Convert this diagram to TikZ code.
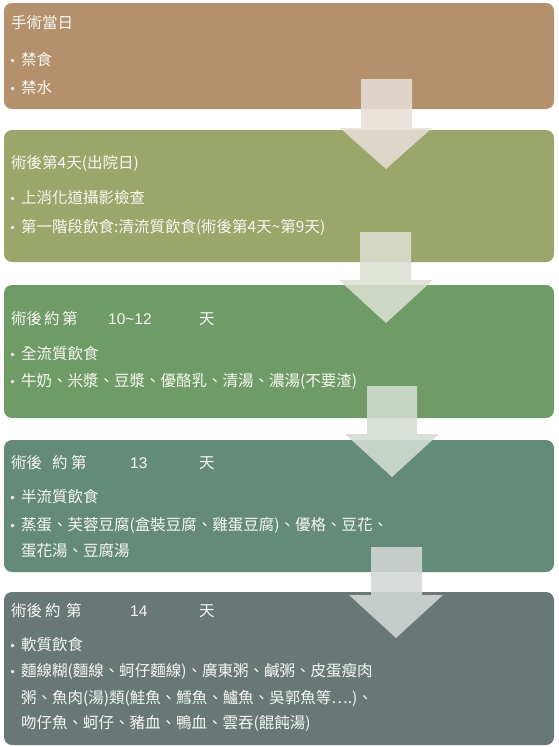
\documentclass[tikz,border=0pt]{standalone}
\usepackage{fontspec}
\setmainfont{Noto Sans CJK TC}
\newfontfamily\bulfont{DejaVu Sans}
\newfontfamily\numfont{Liberation Sans}
\definecolor{cA}{HTML}{B4916C}
\definecolor{cB}{HTML}{9BA66B}
\definecolor{cC}{HTML}{6F9B66}
\definecolor{cD}{HTML}{648B7A}
\definecolor{cE}{HTML}{677877}
\definecolor{aA}{HTML}{E6DED6}
\definecolor{aB}{HTML}{DCE0D2}
\definecolor{aC}{HTML}{D3DDD3}
\definecolor{aD}{HTML}{D3D8D6}
\definecolor{txt}{HTML}{F8F8F2}
\definecolor{bulc}{HTML}{E4E4E0}
\newcommand\placeat[2]{\rlap{\hspace*{#1}#2}}
\newcommand\bul{\makebox[12pt][l]{\textcolor{bulc}{\bulfont\fontsize{12}{12}\selectfont •}}}
\tikzset{
  stagebox/.style={rounded corners=8pt, draw=none},
  line/.style={anchor=base west, inner sep=0pt, text=txt, font=\fontsize{15.5}{18}\selectfont},
  blockarrow/.style={draw=none, fill opacity=0.88},
}
\begin{document}
\begin{tikzpicture}[x=1pt,y=-1pt]
\useasboundingbox (0,0) rectangle (558,747);
% boxes
\fill[stagebox, cA] (4,3) rectangle (554,109);
\fill[stagebox, cB] (4,130) rectangle (554,262);
\fill[stagebox, cC] (4,285) rectangle (554,418);
\fill[stagebox, cD] (4,440) rectangle (554,572);
\fill[stagebox, cE] (4,592) rectangle (554,745);
% arrows
\fill[blockarrow, aA] (361,79) -- (412,79) -- (412,128) -- (432,128) -- (386,169) -- (340,128) -- (361,128) -- cycle;
\fill[blockarrow, aB] (360,232) -- (411,232) -- (411,280) -- (433,280) -- (386,323) -- (339,280) -- (360,280) -- cycle;
\fill[blockarrow, aC] (367,386) -- (417,386) -- (417,434) -- (439,434) -- (392,477) -- (345,434) -- (367,434) -- cycle;
\fill[blockarrow, aD] (371,547) -- (422,547) -- (422,595) -- (443,595) -- (396,638) -- (349,595) -- (371,595) -- cycle;
% box 1
\node[line] (t1) at (11,28) {手術當日};
\node[line] (b11) at (9,65) {\bul 禁食};
\node[line] (b12) at (9,93) {\bul 禁水};
% box 2
\node[line] (t2) at (11,168) {術後第4天(出院日)};
\node[line] (b21) at (9,203) {\bul 上消化道攝影檢查};
\node[line] (b22) at (9,232) {\bul 第一階段飲食:清流質飲食(術後第4天\textasciitilde 第9天)};
% box 3
\node[line] (t3) at (11,324) {\placeat{0pt}{術後}\placeat{33pt}{約}\placeat{51pt}{第}\placeat{97pt}{{\numfont 10\textasciitilde 12}}\placeat{188pt}{天}\hspace*{204pt}};
\node[line] (b31) at (9,359) {\bul 全流質飲食};
\node[line] (b32) at (9,386) {\bul 牛奶、米漿、豆漿、優酪乳、清湯、濃湯(不要渣)};
% box 4
\node[line] (t4) at (11,468) {\placeat{0pt}{術後}\placeat{41pt}{約}\placeat{60pt}{第}\placeat{119pt}{{\numfont 13}}\placeat{188pt}{天}\hspace*{204pt}};
\node[line] (b41) at (9,502) {\bul 半流質飲食};
\node[line] (b42) at (9,530) {\bul 蒸蛋、芙蓉豆腐(盒裝豆腐、雞蛋豆腐)、優格、豆花、};
\node[line] (b43) at (21,556) {蛋花湯、豆腐湯};
% box 5
\node[line] (t5) at (11,616) {\placeat{0pt}{術後}\placeat{34pt}{約}\placeat{55pt}{第}\placeat{119pt}{{\numfont 14}}\placeat{188pt}{天}\hspace*{204pt}};
\node[line] (b51) at (9,650) {\bul 軟質飲食};
\node[line] (b52) at (9,676) {\bul 麵線糊(麵線、蚵仔麵線)、廣東粥、鹹粥、皮蛋瘦肉};
\node[line] (b53) at (21,703) {粥、魚肉(湯)類(鮭魚、鱈魚、鱸魚、吳郭魚等….)、};
\node[line] (b54) at (21,728) {吻仔魚、蚵仔、豬血、鴨血、雲吞(餛飩湯)};
\end{tikzpicture}
\end{document}
